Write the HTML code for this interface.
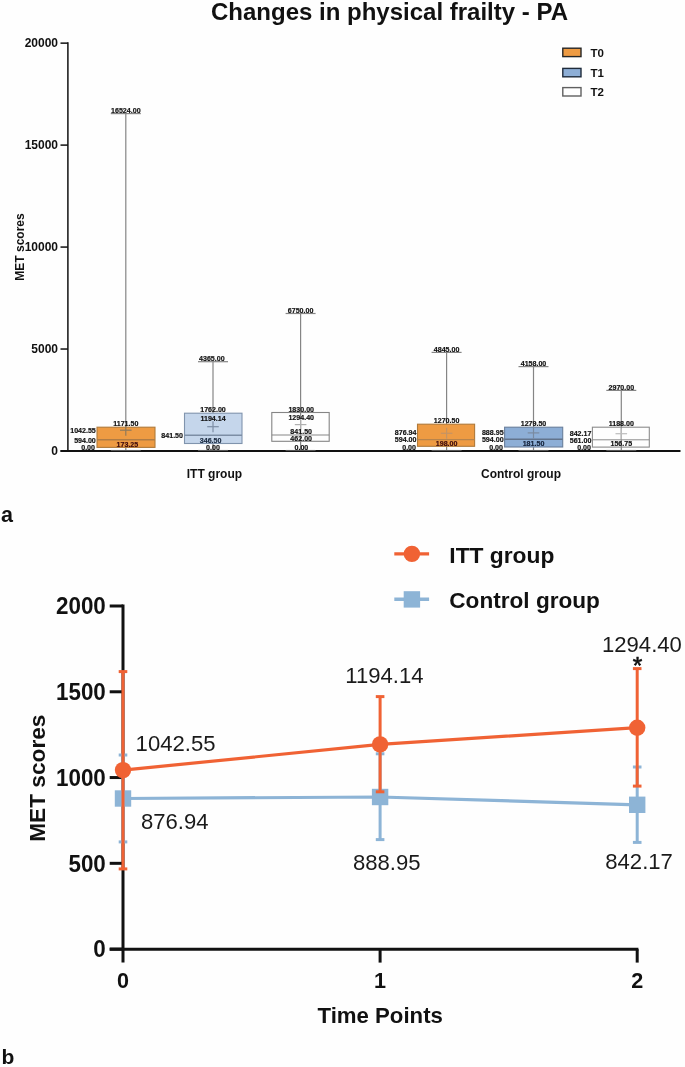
<!DOCTYPE html>
<html><head><meta charset="utf-8"><title>Changes in physical frailty - PA</title>
<style>
html,body{margin:0;padding:0;background:#fff;}
body{width:685px;height:1067px;overflow:hidden;}
svg{display:block;font-family:"Liberation Sans", sans-serif;will-change:transform;}
</style></head><body>
<svg width="685" height="1067" viewBox="0 0 685 1067">
<rect x="0" y="0" width="685" height="1067" fill="#fefefe"/>
<text x="389.5" y="20" font-size="24" font-weight="bold" text-anchor="middle" fill="#111" >Changes in physical frailty - PA</text>
<line x1="67.9" y1="42.3" x2="67.9" y2="451.9" stroke="#111" stroke-width="1.5"/>
<line x1="60.5" y1="43.14" x2="67.9" y2="43.14" stroke="#111" stroke-width="1.5"/>
<text x="58" y="47.44" font-size="12" font-weight="bold" text-anchor="end" fill="#111" >20000</text>
<line x1="60.5" y1="145.1" x2="67.9" y2="145.1" stroke="#111" stroke-width="1.5"/>
<text x="58" y="149.4" font-size="12" font-weight="bold" text-anchor="end" fill="#111" >15000</text>
<line x1="60.5" y1="247.07" x2="67.9" y2="247.07" stroke="#111" stroke-width="1.5"/>
<text x="58" y="251.37" font-size="12" font-weight="bold" text-anchor="end" fill="#111" >10000</text>
<line x1="60.5" y1="349.03" x2="67.9" y2="349.03" stroke="#111" stroke-width="1.5"/>
<text x="58" y="353.33" font-size="12" font-weight="bold" text-anchor="end" fill="#111" >5000</text>
<line x1="60.5" y1="451.0" x2="67.9" y2="451.0" stroke="#111" stroke-width="1.5"/>
<text x="58" y="455.3" font-size="12" font-weight="bold" text-anchor="end" fill="#111" >0</text>
<line x1="60.5" y1="451" x2="680.5" y2="451" stroke="#111" stroke-width="1.8"/>
<text transform="translate(24.2,247) rotate(-90)" font-size="12" font-weight="bold" text-anchor="middle" fill="#111">MET scores</text>
<text x="214.4" y="478.3" font-size="12" font-weight="bold" text-anchor="middle" fill="#111" >ITT group</text>
<text x="521" y="478.3" font-size="12" font-weight="bold" text-anchor="middle" fill="#111" >Control group</text>
<text x="1.0" y="521.5" font-size="21.5" font-weight="bold" text-anchor="start" fill="#111" >a</text>
<rect x="562.8" y="48.2" width="18.2" height="8.4" fill="#EE9B43" stroke="#262626" stroke-width="1.4"/>
<text x="590.4" y="57.0" font-size="11.5" font-weight="bold" text-anchor="start" fill="#111" >T0</text>
<rect x="562.8" y="68.4" width="18.2" height="8.4" fill="#8DAED6" stroke="#1f2b3b" stroke-width="1.4"/>
<text x="590.4" y="77.2" font-size="11.5" font-weight="bold" text-anchor="start" fill="#111" >T1</text>
<rect x="562.8" y="87.6" width="18.2" height="8.4" fill="#ffffff" stroke="#606060" stroke-width="1.4"/>
<text x="590.4" y="96.4" font-size="11.5" font-weight="bold" text-anchor="start" fill="#111" >T2</text>
<line x1="125.8" y1="113.6" x2="125.8" y2="427.2" stroke="#858585" stroke-width="1.2"/>
<line x1="125.8" y1="447.4" x2="125.8" y2="451" stroke="#858585" stroke-width="1.2"/>
<rect x="97.0" y="427.2" width="58.0" height="20.2" fill="#EE9B43" stroke="#b07a3a" stroke-width="1.1"/>
<line x1="97.0" y1="439.8" x2="155.0" y2="439.8" stroke="#b07c45" stroke-width="1.5"/>
<line x1="120.0" y1="430.2" x2="131.6" y2="430.2" stroke="#8f7a5c" stroke-width="1.2"/>
<line x1="125.8" y1="424.7" x2="125.8" y2="435.7" stroke="#8f7a5c" stroke-width="1.2"/>
<line x1="110.8" y1="113.6" x2="140.8" y2="113.6" stroke="#858585" stroke-width="1.2"/>
<line x1="110.8" y1="450.5" x2="140.8" y2="450.5" stroke="#555" stroke-width="1.1"/>
<line x1="213.0" y1="361.7" x2="213.0" y2="413.2" stroke="#858585" stroke-width="1.2"/>
<line x1="213.0" y1="443.5" x2="213.0" y2="451" stroke="#858585" stroke-width="1.2"/>
<rect x="184.5" y="413.2" width="57.5" height="30.3" fill="#C5D6EB" stroke="#8094ad" stroke-width="1.1"/>
<line x1="184.5" y1="435.2" x2="242.0" y2="435.2" stroke="#7d8ea5" stroke-width="1.6"/>
<line x1="207.2" y1="426.7" x2="218.8" y2="426.7" stroke="#7d8ea5" stroke-width="1.2"/>
<line x1="213.0" y1="421.2" x2="213.0" y2="432.2" stroke="#7d8ea5" stroke-width="1.2"/>
<line x1="198.0" y1="361.7" x2="228.0" y2="361.7" stroke="#858585" stroke-width="1.2"/>
<line x1="198.0" y1="450.5" x2="228.0" y2="450.5" stroke="#555" stroke-width="1.1"/>
<line x1="300.6" y1="313.5" x2="300.6" y2="451" stroke="#858585" stroke-width="1.2"/>
<rect x="271.8" y="412.5" width="57.4" height="28.8" fill="none" stroke="#858585" stroke-width="1.1"/>
<line x1="271.8" y1="435.0" x2="329.2" y2="435.0" stroke="#858585" stroke-width="1.1"/>
<line x1="294.8" y1="424.6" x2="306.4" y2="424.6" stroke="#b0b0b0" stroke-width="1.2"/>
<line x1="300.6" y1="419.1" x2="300.6" y2="430.1" stroke="#b0b0b0" stroke-width="1.2"/>
<line x1="285.6" y1="313.5" x2="315.6" y2="313.5" stroke="#858585" stroke-width="1.2"/>
<line x1="285.6" y1="450.5" x2="315.6" y2="450.5" stroke="#555" stroke-width="1.1"/>
<line x1="446.6" y1="352.4" x2="446.6" y2="424.2" stroke="#858585" stroke-width="1.2"/>
<line x1="446.6" y1="446.3" x2="446.6" y2="451" stroke="#858585" stroke-width="1.2"/>
<rect x="417.5" y="424.2" width="57.1" height="22.1" fill="#EE9B43" stroke="#b07a3a" stroke-width="1.1"/>
<line x1="417.5" y1="439.6" x2="474.6" y2="439.6" stroke="#b8844c" stroke-width="1.3"/>
<line x1="440.8" y1="433.3" x2="452.4" y2="433.3" stroke="#c49464" stroke-width="1.2"/>
<line x1="446.6" y1="427.8" x2="446.6" y2="438.8" stroke="#c49464" stroke-width="1.2"/>
<line x1="431.6" y1="352.4" x2="461.6" y2="352.4" stroke="#858585" stroke-width="1.2"/>
<line x1="431.6" y1="450.5" x2="461.6" y2="450.5" stroke="#555" stroke-width="1.1"/>
<line x1="533.5" y1="366.6" x2="533.5" y2="427.2" stroke="#858585" stroke-width="1.2"/>
<line x1="533.5" y1="447.0" x2="533.5" y2="451" stroke="#858585" stroke-width="1.2"/>
<rect x="504.6" y="427.2" width="58.1" height="19.8" fill="#8DAED6" stroke="#6a7f9c" stroke-width="1.1"/>
<line x1="504.6" y1="439.3" x2="562.7" y2="439.3" stroke="#62738b" stroke-width="1.4"/>
<line x1="527.7" y1="432.9" x2="539.3" y2="432.9" stroke="#7a8aa0" stroke-width="1.2"/>
<line x1="533.5" y1="427.4" x2="533.5" y2="438.4" stroke="#7a8aa0" stroke-width="1.2"/>
<line x1="518.5" y1="366.6" x2="548.5" y2="366.6" stroke="#858585" stroke-width="1.2"/>
<line x1="518.5" y1="450.5" x2="548.5" y2="450.5" stroke="#555" stroke-width="1.1"/>
<line x1="621.3" y1="390.4" x2="621.3" y2="451" stroke="#858585" stroke-width="1.2"/>
<rect x="592.4" y="427.2" width="56.9" height="19.9" fill="none" stroke="#8c8c8c" stroke-width="1.1"/>
<line x1="592.4" y1="439.8" x2="649.3" y2="439.8" stroke="#8c8c8c" stroke-width="1.0"/>
<line x1="615.5" y1="433.7" x2="627.1" y2="433.7" stroke="#bdbdbd" stroke-width="1.2"/>
<line x1="621.3" y1="428.2" x2="621.3" y2="439.2" stroke="#bdbdbd" stroke-width="1.2"/>
<line x1="606.3" y1="390.4" x2="636.3" y2="390.4" stroke="#858585" stroke-width="1.2"/>
<line x1="606.3" y1="450.5" x2="636.3" y2="450.5" stroke="#555" stroke-width="1.1"/>
<text transform="translate(125.8,112.6) scale(1,1.12)" font-size="7.1" font-weight="bold" text-anchor="middle" fill="#111" stroke="#111" stroke-width="0.18">16524.00</text>
<text transform="translate(125.8,426.3) scale(1,1.12)" font-size="7.1" font-weight="bold" text-anchor="middle" fill="#111" stroke="#111" stroke-width="0.18">1171.50</text>
<text transform="translate(95.8,432.7) scale(1,1.12)" font-size="7.1" font-weight="bold" text-anchor="end" fill="#111" stroke="#111" stroke-width="0.18">1042.55</text>
<text transform="translate(95.8,442.6) scale(1,1.12)" font-size="7.1" font-weight="bold" text-anchor="end" fill="#111" stroke="#111" stroke-width="0.18">594.00</text>
<text transform="translate(95.0,450.2) scale(1,1.12)" font-size="7.1" font-weight="bold" text-anchor="end" fill="#111" stroke="#111" stroke-width="0.18">0.00</text>
<text transform="translate(127.4,446.8) scale(1,1.12)" font-size="7.1" font-weight="bold" text-anchor="middle" fill="#3d0b0e" stroke="#3d0b0e" stroke-width="0.18">173.25</text>
<text transform="translate(211.8,361.2) scale(1,1.12)" font-size="7.1" font-weight="bold" text-anchor="middle" fill="#111" stroke="#111" stroke-width="0.18">4365.00</text>
<text transform="translate(213,412.3) scale(1,1.12)" font-size="7.1" font-weight="bold" text-anchor="middle" fill="#111" stroke="#111" stroke-width="0.18">1762.00</text>
<text transform="translate(213,420.6) scale(1,1.12)" font-size="7.1" font-weight="bold" text-anchor="middle" fill="#111" stroke="#111" stroke-width="0.18">1194.14</text>
<text transform="translate(183.0,437.5) scale(1,1.12)" font-size="7.1" font-weight="bold" text-anchor="end" fill="#111" stroke="#111" stroke-width="0.18">841.50</text>
<text transform="translate(210.6,442.5) scale(1,1.12)" font-size="7.1" font-weight="bold" text-anchor="middle" fill="#1a2a40" stroke="#1a2a40" stroke-width="0.18">346.50</text>
<text transform="translate(213,450.3) scale(1,1.12)" font-size="7.1" font-weight="bold" text-anchor="middle" fill="#111" stroke="#111" stroke-width="0.18">0.00</text>
<text transform="translate(300.6,312.6) scale(1,1.12)" font-size="7.1" font-weight="bold" text-anchor="middle" fill="#111" stroke="#111" stroke-width="0.18">6750.00</text>
<text transform="translate(301.2,412.3) scale(1,1.12)" font-size="7.1" font-weight="bold" text-anchor="middle" fill="#111" stroke="#111" stroke-width="0.18">1830.00</text>
<text transform="translate(301.2,419.8) scale(1,1.12)" font-size="7.1" font-weight="bold" text-anchor="middle" fill="#111" stroke="#111" stroke-width="0.18">1294.40</text>
<text transform="translate(301.2,434.0) scale(1,1.12)" font-size="7.1" font-weight="bold" text-anchor="middle" fill="#111" stroke="#111" stroke-width="0.18">841.50</text>
<text transform="translate(301.2,440.6) scale(1,1.12)" font-size="7.1" font-weight="bold" text-anchor="middle" fill="#111" stroke="#111" stroke-width="0.18">462.00</text>
<text transform="translate(301.4,450.3) scale(1,1.12)" font-size="7.1" font-weight="bold" text-anchor="middle" fill="#111" stroke="#111" stroke-width="0.18">0.00</text>
<text transform="translate(446.6,351.6) scale(1,1.12)" font-size="7.1" font-weight="bold" text-anchor="middle" fill="#111" stroke="#111" stroke-width="0.18">4845.00</text>
<text transform="translate(446.6,423.2) scale(1,1.12)" font-size="7.1" font-weight="bold" text-anchor="middle" fill="#111" stroke="#111" stroke-width="0.18">1270.50</text>
<text transform="translate(416.5,434.6) scale(1,1.12)" font-size="7.1" font-weight="bold" text-anchor="end" fill="#111" stroke="#111" stroke-width="0.18">876.94</text>
<text transform="translate(416.5,441.9) scale(1,1.12)" font-size="7.1" font-weight="bold" text-anchor="end" fill="#111" stroke="#111" stroke-width="0.18">594.00</text>
<text transform="translate(416.0,450.3) scale(1,1.12)" font-size="7.1" font-weight="bold" text-anchor="end" fill="#111" stroke="#111" stroke-width="0.18">0.00</text>
<text transform="translate(446.6,445.8) scale(1,1.12)" font-size="7.1" font-weight="bold" text-anchor="middle" fill="#3d0b0e" stroke="#3d0b0e" stroke-width="0.18">198.00</text>
<text transform="translate(533.5,365.8) scale(1,1.12)" font-size="7.1" font-weight="bold" text-anchor="middle" fill="#111" stroke="#111" stroke-width="0.18">4158.00</text>
<text transform="translate(533.5,426.3) scale(1,1.12)" font-size="7.1" font-weight="bold" text-anchor="middle" fill="#111" stroke="#111" stroke-width="0.18">1279.50</text>
<text transform="translate(503.6,434.6) scale(1,1.12)" font-size="7.1" font-weight="bold" text-anchor="end" fill="#111" stroke="#111" stroke-width="0.18">888.95</text>
<text transform="translate(503.6,441.9) scale(1,1.12)" font-size="7.1" font-weight="bold" text-anchor="end" fill="#111" stroke="#111" stroke-width="0.18">594.00</text>
<text transform="translate(503.0,450.3) scale(1,1.12)" font-size="7.1" font-weight="bold" text-anchor="end" fill="#111" stroke="#111" stroke-width="0.18">0.00</text>
<text transform="translate(533.5,446.3) scale(1,1.12)" font-size="7.1" font-weight="bold" text-anchor="middle" fill="#14223a" stroke="#14223a" stroke-width="0.18">181.50</text>
<text transform="translate(621.3,389.6) scale(1,1.12)" font-size="7.1" font-weight="bold" text-anchor="middle" fill="#111" stroke="#111" stroke-width="0.18">2970.00</text>
<text transform="translate(621.3,426.3) scale(1,1.12)" font-size="7.1" font-weight="bold" text-anchor="middle" fill="#111" stroke="#111" stroke-width="0.18">1188.00</text>
<text transform="translate(591.4,436.4) scale(1,1.12)" font-size="7.1" font-weight="bold" text-anchor="end" fill="#111" stroke="#111" stroke-width="0.18">842.17</text>
<text transform="translate(591.4,443.0) scale(1,1.12)" font-size="7.1" font-weight="bold" text-anchor="end" fill="#111" stroke="#111" stroke-width="0.18">561.00</text>
<text transform="translate(591.0,450.3) scale(1,1.12)" font-size="7.1" font-weight="bold" text-anchor="end" fill="#111" stroke="#111" stroke-width="0.18">0.00</text>
<text transform="translate(621.3,446.3) scale(1,1.12)" font-size="7.1" font-weight="bold" text-anchor="middle" fill="#111" stroke="#111" stroke-width="0.18">156.75</text>
<line x1="123.0" y1="604.5" x2="123.0" y2="962.6" stroke="#111" stroke-width="3"/>
<line x1="109.7" y1="949.2" x2="638.4" y2="949.2" stroke="#111" stroke-width="3"/>
<line x1="109.7" y1="606.0" x2="123.0" y2="606.0" stroke="#111" stroke-width="3"/>
<text transform="translate(105.8,614.2) scale(1,1.07)" font-size="22.4" font-weight="bold" text-anchor="end" fill="#111">2000</text>
<line x1="109.7" y1="691.78" x2="123.0" y2="691.78" stroke="#111" stroke-width="3"/>
<text transform="translate(105.8,699.98) scale(1,1.07)" font-size="22.4" font-weight="bold" text-anchor="end" fill="#111">1500</text>
<line x1="109.7" y1="777.55" x2="123.0" y2="777.55" stroke="#111" stroke-width="3"/>
<text transform="translate(105.8,785.75) scale(1,1.07)" font-size="22.4" font-weight="bold" text-anchor="end" fill="#111">1000</text>
<line x1="109.7" y1="863.33" x2="123.0" y2="863.33" stroke="#111" stroke-width="3"/>
<text transform="translate(105.8,871.53) scale(1,1.07)" font-size="22.4" font-weight="bold" text-anchor="end" fill="#111">500</text>
<line x1="109.7" y1="949.1" x2="123.0" y2="949.1" stroke="#111" stroke-width="3"/>
<text transform="translate(105.8,957.3) scale(1,1.07)" font-size="22.4" font-weight="bold" text-anchor="end" fill="#111">0</text>
<line x1="380.1" y1="949.2" x2="380.1" y2="962.6" stroke="#111" stroke-width="3"/>
<line x1="637.2" y1="949.2" x2="637.2" y2="962.6" stroke="#111" stroke-width="3"/>
<text transform="translate(123.0,988.2) scale(1,1.05)" font-size="21.6" font-weight="bold" text-anchor="middle" fill="#111">0</text>
<text transform="translate(380.1,988.2) scale(1,1.05)" font-size="21.6" font-weight="bold" text-anchor="middle" fill="#111">1</text>
<text transform="translate(637.2,988.2) scale(1,1.05)" font-size="21.6" font-weight="bold" text-anchor="middle" fill="#111">2</text>
<text x="380.2" y="1023" font-size="22.2" font-weight="bold" text-anchor="middle" fill="#111" >Time Points</text>
<text transform="translate(44.5,778.2) rotate(-90)" font-size="22.7" font-weight="bold" text-anchor="middle" fill="#111">MET scores</text>
<text x="1.5" y="1064" font-size="21" font-weight="bold" text-anchor="start" fill="#111" >b</text>
<line x1="123.0" y1="755.0" x2="123.0" y2="841.9" stroke="#8DB4D6" stroke-width="3"/>
<line x1="118.7" y1="755.0" x2="127.3" y2="755.0" stroke="#8DB4D6" stroke-width="3"/>
<line x1="118.7" y1="841.9" x2="127.3" y2="841.9" stroke="#8DB4D6" stroke-width="3"/>
<line x1="380.1" y1="753.8" x2="380.1" y2="839.6" stroke="#8DB4D6" stroke-width="3"/>
<line x1="375.8" y1="753.8" x2="384.4" y2="753.8" stroke="#8DB4D6" stroke-width="3"/>
<line x1="375.8" y1="839.6" x2="384.4" y2="839.6" stroke="#8DB4D6" stroke-width="3"/>
<line x1="637.2" y1="767.0" x2="637.2" y2="842.4" stroke="#8DB4D6" stroke-width="3"/>
<line x1="632.9" y1="767.0" x2="641.5" y2="767.0" stroke="#8DB4D6" stroke-width="3"/>
<line x1="632.9" y1="842.4" x2="641.5" y2="842.4" stroke="#8DB4D6" stroke-width="3"/>
<polyline points="123.0,798.5 380.1,797.0 637.2,804.8" fill="none" stroke="#8DB4D6" stroke-width="3.2"/>
<rect x="114.8" y="790.3" width="16.4" height="16.4" fill="#8DB4D6"/>
<rect x="371.9" y="788.8" width="16.4" height="16.4" fill="#8DB4D6"/>
<rect x="629.0" y="796.6" width="16.4" height="16.4" fill="#8DB4D6"/>
<line x1="123.0" y1="671.6" x2="123.0" y2="868.9" stroke="#F06234" stroke-width="3"/>
<line x1="118.7" y1="671.6" x2="127.3" y2="671.6" stroke="#F06234" stroke-width="3"/>
<line x1="118.7" y1="868.9" x2="127.3" y2="868.9" stroke="#F06234" stroke-width="3"/>
<line x1="380.1" y1="696.6" x2="380.1" y2="791.8" stroke="#F06234" stroke-width="3"/>
<line x1="375.8" y1="696.6" x2="384.4" y2="696.6" stroke="#F06234" stroke-width="3"/>
<line x1="375.8" y1="791.8" x2="384.4" y2="791.8" stroke="#F06234" stroke-width="3"/>
<line x1="637.2" y1="668.6" x2="637.2" y2="786.1" stroke="#F06234" stroke-width="3"/>
<line x1="632.9" y1="668.6" x2="641.5" y2="668.6" stroke="#F06234" stroke-width="3"/>
<line x1="632.9" y1="786.1" x2="641.5" y2="786.1" stroke="#F06234" stroke-width="3"/>
<polyline points="123.0,770.1 380.1,744.4 637.2,727.7" fill="none" stroke="#F06234" stroke-width="3.2"/>
<circle cx="123.0" cy="770.1" r="8.2" fill="#F06234"/>
<circle cx="380.1" cy="744.4" r="8.2" fill="#F06234"/>
<circle cx="637.2" cy="727.7" r="8.2" fill="#F06234"/>
<text x="135.6" y="751.2" font-size="22.1" font-weight="normal" text-anchor="start" fill="#1a1a1a" >1042.55</text>
<text x="140.9" y="829.0" font-size="22.1" font-weight="normal" text-anchor="start" fill="#1a1a1a" >876.94</text>
<text x="345.3" y="683.4" font-size="22.1" font-weight="normal" text-anchor="start" fill="#1a1a1a" >1194.14</text>
<text x="353.0" y="869.6" font-size="22.1" font-weight="normal" text-anchor="start" fill="#1a1a1a" >888.95</text>
<text x="602.0" y="651.8" font-size="22.1" font-weight="normal" text-anchor="start" fill="#1a1a1a" >1294.40</text>
<text x="605.3" y="868.9" font-size="22.1" font-weight="normal" text-anchor="start" fill="#1a1a1a" >842.17</text>
<text x="637.4" y="673.8" font-size="24.5" font-weight="normal" text-anchor="middle" fill="#111" stroke="#111" stroke-width="0.6">*</text>
<line x1="394.3" y1="553.9" x2="429.1" y2="553.9" stroke="#F06234" stroke-width="3.4"/>
<circle cx="411.9" cy="553.9" r="8.2" fill="#F06234"/>
<line x1="394.3" y1="599.2" x2="429.1" y2="599.2" stroke="#8DB4D6" stroke-width="3.4"/>
<rect x="403.7" y="591.2" width="16.4" height="16.4" fill="#8DB4D6"/>
<text x="449.3" y="562.6" font-size="22.8" font-weight="bold" text-anchor="start" fill="#111" >ITT group</text>
<text x="449.3" y="608.0" font-size="22.6" font-weight="bold" text-anchor="start" fill="#111" >Control group</text>
</svg>
</body></html>
